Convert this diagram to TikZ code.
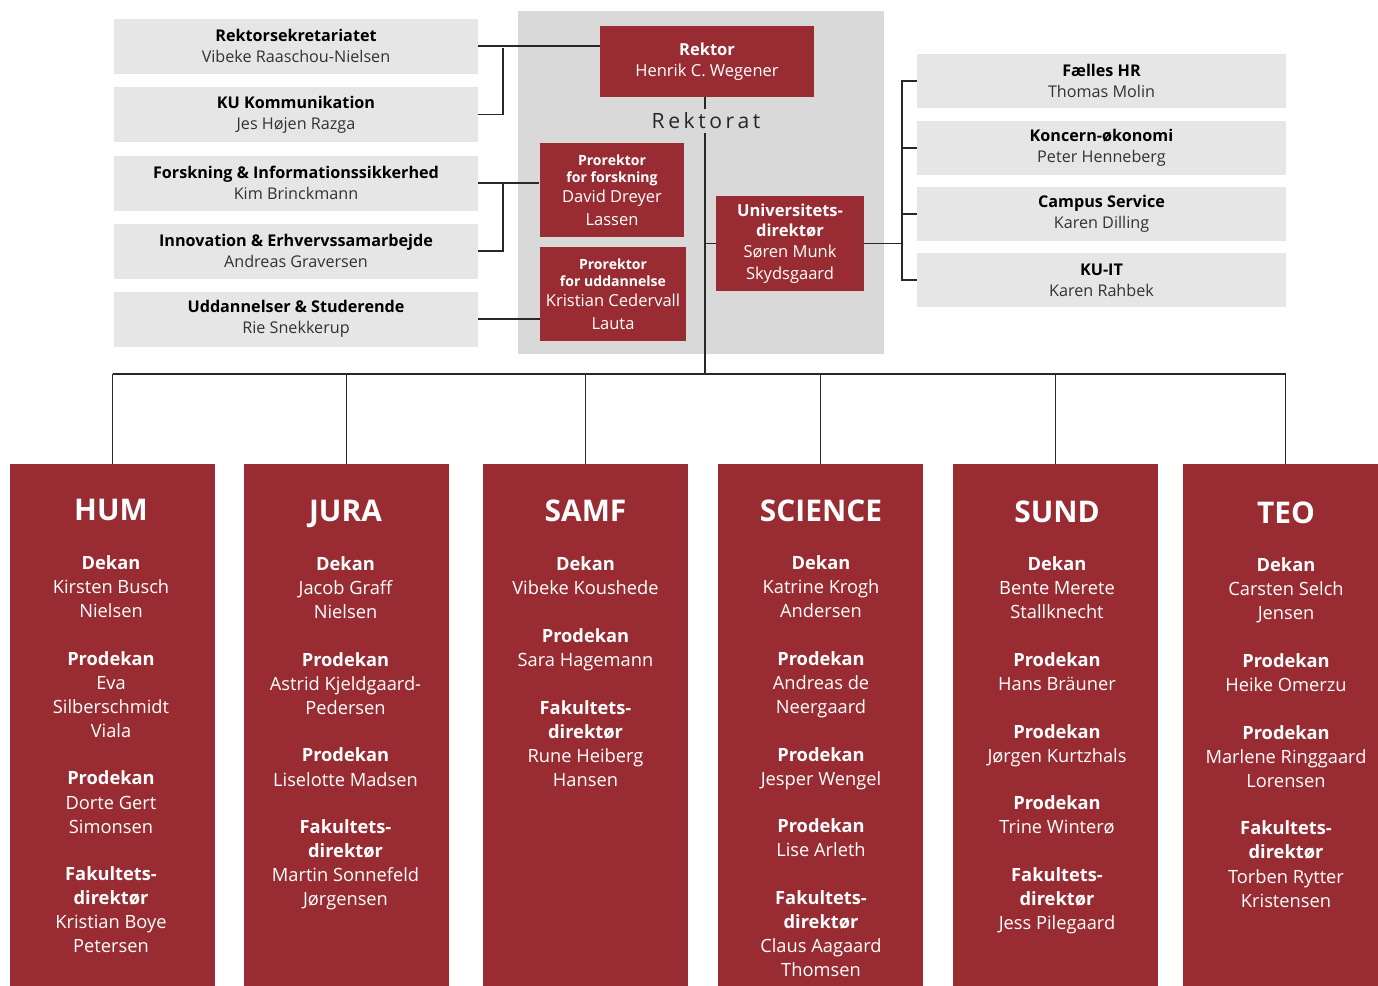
\documentclass[tikz,border=0pt]{standalone}
\usepackage{fontspec}
\setmainfont{Open Sans}
\newfontfamily\spacedfont[LetterSpace=17]{Open Sans}
\usepackage{tikz}
\usetikzlibrary{calc}

\definecolor{kured}{RGB}{153,44,51}
\definecolor{boxgrey}{RGB}{230,230,230}
\definecolor{rekgrey}{RGB}{217,217,217}
\definecolor{linegrey}{RGB}{40,40,40}
\definecolor{namegrey}{RGB}{50,50,50}

\newcommand{\facname}[1]{{\fontsize{17}{20}\selectfont\bfseries #1}}
\newcommand{\smb}[1]{{\fontsize{8}{10}\selectfont\bfseries #1}}
\newcommand{\nm}[1]{{\color{namegrey}#1}}

\begin{document}
\begin{tikzpicture}[x=0.02cm,y=-0.02cm,
  staff/.style={fill=boxgrey, text=black, minimum width=7.28cm, minimum height=1.1cm,
    inner sep=0pt, align=center, font=\fontsize{9.2}{11.9}\selectfont},
  staffr/.style={staff, minimum width=7.38cm, minimum height=1.08cm},
  redbox/.style={fill=kured, text=white, inner sep=0pt, align=center,
    font=\fontsize{9.4}{11.9}\selectfont},
  facbox/.style={fill=kured, minimum width=4.1cm, minimum height=10.44cm, inner sep=0pt},
  factext/.style={anchor=north, text=white, inner sep=0pt, align=center,
    font=\fontsize{10.4}{13.7}\selectfont},
  link/.style={draw=linegrey, line width=0.7pt}]
 \useasboundingbox (0,0) rectangle (1378,985);
 %rektorat background
    \fill[rekgrey] (518,11) rectangle (884,354);
    \node[redbox, minimum width=4.28cm, minimum height=1.42cm] (rektor) at (707,61.5)
      {\textbf{Rektor}\\Henrik C. Wegener};
    \node[inner sep=2pt, text=black!85, font=\fontsize{12}{14}\selectfont\spacedfont] (rektorat) at (706,121) {Rektorat};
    \node[redbox, minimum width=2.9cm, minimum height=1.88cm] (pf) at (612,190)
      {\smb{Prorektor}\\[-1.8pt]\smb{for forskning}\\[-0.7pt]David Dreyer\\[1pt]Lassen};
    \node[redbox, minimum width=2.92cm, minimum height=1.88cm] (pu) at (613,294)
      {\smb{Prorektor}\\[-1.8pt]\smb{for uddannelse}\\[-0.7pt]Kristian Cedervall\\[1pt]Lauta};
    \node[redbox, minimum width=2.96cm, minimum height=1.9cm] (udir) at (790,243.5)
      {\textbf{Universitets-}\\[-0.5pt]\textbf{direktør}\\Søren Munk\\[0.5pt]Skydsgaard};
 %left staff
    \node[staff] (rs) at (296,46) {\textbf{Rektorsekretariatet}\\\nm{Vibeke Raaschou-Nielsen}};
    \node[staff] (kom) at (296,114.5) {\textbf{KU Kommunikation}\\\nm{Jes Højen Razga}};
    \node[staff] (fis) at (296,183) {\textbf{Forskning \& Informationssikkerhed}\\\nm{Kim Brinckmann}};
    \node[staff] (ies) at (296,251) {\textbf{Innovation \& Erhvervssamarbejde}\\\nm{Andreas Graversen}};
    \node[staff] (uds) at (296,319) {\textbf{Uddannelser \& Studerende}\\\nm{Rie Snekkerup}};
 %right staff
    \node[staffr] (hr) at (1101.5,81) {\textbf{Fælles HR}\\\nm{Thomas Molin}};
    \node[staffr] (kon) at (1101.5,148) {\textbf{Koncern-økonomi}\\\nm{Peter Henneberg}};
    \node[staffr] (cs) at (1101.5,214) {\textbf{Campus Service}\\\nm{Karen Dilling}};
    \node[staffr] (kuit) at (1101.5,280) {\textbf{KU-IT}\\\nm{Karen Rahbek}};
 %faculties
    \node[facbox] (hum) at (112.5,725) {};
    \node[facbox] (jura) at (346.5,725) {};
    \node[facbox] (samf) at (585.5,725) {};
    \node[facbox] (sci) at (820.5,725) {};
    \node[facbox] (sund) at (1055.5,725) {};
    \node[facbox] (teo) at (1285.5,725) {};
    \node[factext] (humtxt) at (111,499) {\facname{HUM}\\[14pt]
      \textbf{Dekan}\\Kirsten Busch\\Nielsen\\[13.4pt]
      \textbf{Prodekan}\\Eva\\Silberschmidt\\Viala\\[13.4pt]
      \textbf{Prodekan}\\Dorte Gert\\Simonsen\\[13.4pt]
      \textbf{Fakultets-}\\\textbf{direktør}\\Kristian Boye\\Petersen};
    \node[factext] (juratxt) at (345.5,500) {\facname{JURA}\\[14pt]
      \textbf{Dekan}\\Jacob Graff\\Nielsen\\[13.4pt]
      \textbf{Prodekan}\\Astrid Kjeldgaard-\\Pedersen\\[13.4pt]
      \textbf{Prodekan}\\Liselotte Madsen\\[13.4pt]
      \textbf{Fakultets-}\\\textbf{direktør}\\Martin Sonnefeld\\Jørgensen};
    \node[factext] (samftxt) at (585.5,500) {\facname{SAMF}\\[14pt]
      \textbf{Dekan}\\Vibeke Koushede\\[13.4pt]
      \textbf{Prodekan}\\Sara Hagemann\\[13.4pt]
      \textbf{Fakultets-}\\\textbf{direktør}\\Rune Heiberg\\Hansen};
    \node[factext] (scitxt) at (821,499) {\facname{SCIENCE}\\[14pt]
      \textbf{Dekan}\\Katrine Krogh\\Andersen\\[13.4pt]
      \textbf{Prodekan}\\Andreas de\\Neergaard\\[13.4pt]
      \textbf{Prodekan}\\Jesper Wengel\\[13.4pt]
      \textbf{Prodekan}\\Lise Arleth\\[13.4pt]
      \textbf{Fakultets-}\\\textbf{direktør}\\Claus Aagaard\\Thomsen};
    \node[factext] (sundtxt) at (1057,500) {\facname{SUND}\\[14pt]
      \textbf{Dekan}\\Bente Merete\\Stallknecht\\[13.4pt]
      \textbf{Prodekan}\\Hans Bräuner\\[13.4pt]
      \textbf{Prodekan}\\Jørgen Kurtzhals\\[13.4pt]
      \textbf{Prodekan}\\Trine Winterø\\[13.4pt]
      \textbf{Fakultets-}\\\textbf{direktør}\\Jess Pilegaard};
    \node[factext] (teotxt) at (1286,501) {\facname{TEO}\\[14pt]
      \textbf{Dekan}\\Carsten Selch\\Jensen\\[13.4pt]
      \textbf{Prodekan}\\Heike Omerzu\\[13.4pt]
      \textbf{Prodekan}\\Marlene Ringgaard\\Lorensen\\[13.4pt]
      \textbf{Fakultets-}\\\textbf{direktør}\\Torben Rytter\\Kristensen};
 %connectors
    \coordinate (bus) at (705,374);
    \coordinate (lbr) at (503,48);
    \coordinate (rbr) at (902,243.5);
    \draw[link] (rektor.south -| bus) -- (rektorat.north -| bus);
    \draw[link] (rektorat.south -| bus) -- (bus);
    \draw[link] ($(pf.east)+(0,-18)$) -- ($(pf.east)+(0,-18)$ -| bus);
    \draw[link] ($(pu.east)+(0,-20)$) -- ($(pu.east)+(0,-20)$ -| bus);
    \draw[link] (udir.west) -- (udir.west -| bus);
    \draw[link] (rs.east) -- (rs.east -| rektor.west);
    \draw[link] (kom.east) -| (lbr);
    \draw[link] (fis.east) -- (fis.east -| pf.west);
    \draw[link] (ies.east) -| (lbr |- fis.east);
    \draw[link] (uds.east) -- (uds.east -| pu.west);
    \draw[link] (udir.east) -- (rbr);
    \draw[link] (hr.west) -| (rbr) |- (kuit.west);
    \draw[link] (kon.west) -- (kon.west -| rbr);
    \draw[link] (cs.west) -- (cs.west -| rbr);
    \draw[link] (hum.north |- bus) -- (teo.north |- bus);
    \foreach \f in {hum,jura,samf,sci,sund,teo}
      \draw[link] (\f.north) -- (\f.north |- bus);
\end{tikzpicture}
\end{document}
